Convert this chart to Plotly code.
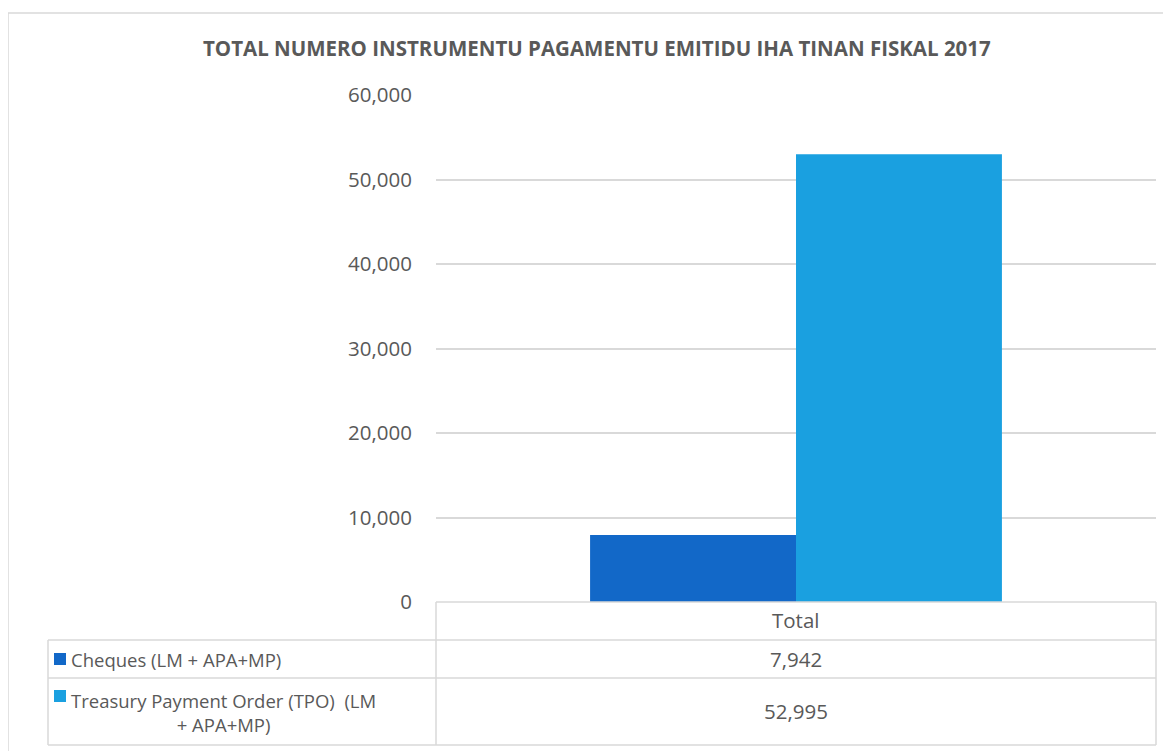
import plotly.graph_objects as go

# data
categories = ["Total"]
series_names = ["Cheques (LM + APA+MP)", "Treasury Payment Order (TPO)  (LM + APA+MP)"]
table_labels = ["Cheques (LM + APA+MP)", "Treasury Payment Order (TPO)  (LM<br>+ APA+MP)"]
cheques = [7942]
tpo = [52995]
y_ticks = [0, 10000, 20000, 30000, 40000, 50000, 60000]
colors = ["#1268c8", "#1aa0e0"]
title = "TOTAL NUMERO INSTRUMENTU PAGAMENTU EMITIDU IHA TINAN FISKAL 2017"

# page puts the figure 8px in from the window edge
OFF = 8
W, H = 1171 - OFF, 751 - OFF
# plot area, in window pixels
L, R, T, B = 436, 1156, 95, 602


def px(x):
    return (x - L) / (R - L)


def py(y):
    return (B - y) / (B - T)


font = "Open Sans, Segoe UI, Arial, sans-serif"
grey = "#595959"
line = "#d9d9d9"

fig = go.Figure()
for name, vals, c in zip(series_names, [cheques, tpo], colors):
    fig.add_trace(go.Bar(x=categories, y=vals, name=name,
                         marker=dict(color=c, line=dict(width=0)),
                         hoverinfo="y+name"))

shapes = []


def hline(x0, x1, y):
    shapes.append(dict(type="line", xref="paper", yref="paper", x0=px(x0), x1=px(x1),
                       y0=py(y), y1=py(y), line=dict(color=line, width=1.5)))


def vline(x, y0, y1):
    shapes.append(dict(type="line", xref="paper", yref="paper", x0=px(x), x1=px(x),
                       y0=py(y0), y1=py(y1), line=dict(color=line, width=1.5)))


# outer frame (left and top visible)
hline(8, 1180, 13)
vline(8, 13, 760)
# data table grid
row_y = [602, 640, 678, 745]
hline(L, R, row_y[0])
for y in row_y[1:]:
    hline(48, R, y)
vline(48, 640, 745)
vline(L, 602, 745)
vline(R, 602, 745)

# legend keys inside the table
for (y0, y1), c in zip([(653, 665), (690, 702)], colors):
    shapes.append(dict(type="rect", xref="paper", yref="paper", x0=px(54), x1=px(66),
                       y0=py(y1), y1=py(y0), fillcolor=c, line=dict(width=0)))


def note(text, x, y, size, xanchor="center", align="center"):
    return dict(text=text, x=px(x), y=py(y), xref="paper", yref="paper", showarrow=False,
                xanchor=xanchor, yanchor="middle", align=align,
                font=dict(size=size, color=grey, family=font))


annotations = [
    note(f"<b>{title}</b>", 597, 48, 20.5),
    note(categories[0], 796, 620, 20.5),
    note(f"{cheques[0]:,}", 796, 659, 20.5),
    note(f"{tpo[0]:,}", 796, 711, 20.5),
    note(table_labels[0], 69, 659, 18.5, xanchor="left"),
    note(table_labels[1], 69, 712, 18.5, xanchor="left"),
]

fig.update_layout(
    width=W, height=H,
    margin=dict(l=L - OFF, r=W - (R - OFF), t=T - OFF, b=H - (B - OFF)),
    paper_bgcolor="white", plot_bgcolor="white",
    barmode="group", bargap=0.428, bargroupgap=0,
    showlegend=False,
    shapes=shapes, annotations=annotations,
    xaxis=dict(showticklabels=False, showgrid=False, zeroline=False, showline=False),
    yaxis=dict(range=[0, 60000], tickvals=y_ticks, tickformat=",d",
               showgrid=True, gridcolor=line, gridwidth=1.5, zeroline=False,
               showline=False, ticks="", ticklabelstandoff=23,
               tickfont=dict(size=20.5, color=grey, family=font)),
    font=dict(family=font, color=grey),
)

fig.write_html("out.html")
